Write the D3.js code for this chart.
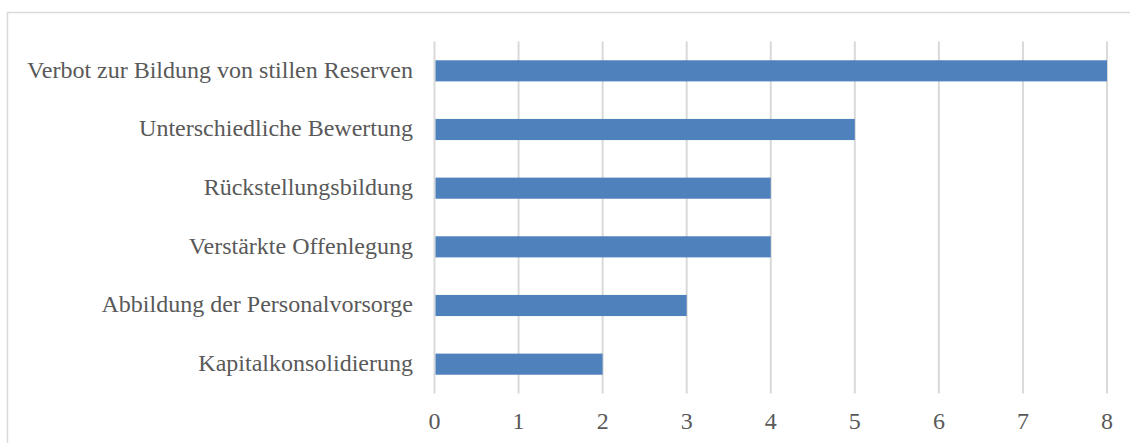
<!DOCTYPE html>
<html><head><meta charset="utf-8">
<script src="https://cdn.jsdelivr.net/npm/d3@7"></script>
<style>body{margin:0;background:#fff}svg{display:block}</style>
</head><body><svg id="c" width="1130" height="443"></svg>
<script>
const categories = ["Verbot zur Bildung von stillen Reserven","Unterschiedliche Bewertung","Rückstellungsbildung","Verstärkte Offenlegung","Abbildung der Personalvorsorge","Kapitalkonsolidierung"];
const values = [8,5,4,4,3,2];
const ticks = [0,1,2,3,4,5,6,7,8];

const svg = d3.select("#c");
svg.append("rect").attr("x",7.5).attr("y",12.5).attr("width",1140).attr("height",460)
  .attr("fill","#fff").attr("stroke","#d9d9d9").attr("stroke-width",1.5);

const x = d3.scaleLinear().domain([0,8]).range([434.5,1107]);
const y = d3.scaleBand().domain(categories).range([41.5,393.5]).paddingInner(0.64).paddingOuter(0.32);

const font = "'Liberation Serif','Times New Roman',serif";
svg.append("g").selectAll("line").data(ticks).join("line")
  .attr("x1",d=>x(d)).attr("x2",d=>x(d)).attr("y1",41.5).attr("y2",393.5)
  .attr("stroke","#d9d9d9").attr("stroke-width",2);

svg.append("g").selectAll("rect").data(values).join("rect")
  .attr("x",x(0)+1).attr("y",(d,i)=>y(categories[i]))
  .attr("width",d=>x(d)-x(0)-1).attr("height",y.bandwidth())
  .attr("fill","#4f81bd");

svg.append("g").selectAll("text").data(categories).join("text")
  .attr("x",413).attr("y",d=>y(d)+y.bandwidth()/2).attr("dy","0.28em")
  .attr("text-anchor","end").attr("font-family",font).attr("font-size",24)
  .attr("fill","#595959").text(d=>d);

svg.append("g").selectAll("text").data(ticks).join("text")
  .attr("x",d=>x(d)).attr("y",421).attr("dy","0.35em")
  .attr("text-anchor","middle").attr("font-family",font).attr("font-size",24)
  .attr("fill","#595959").text(d=>d);
</script></body></html>
